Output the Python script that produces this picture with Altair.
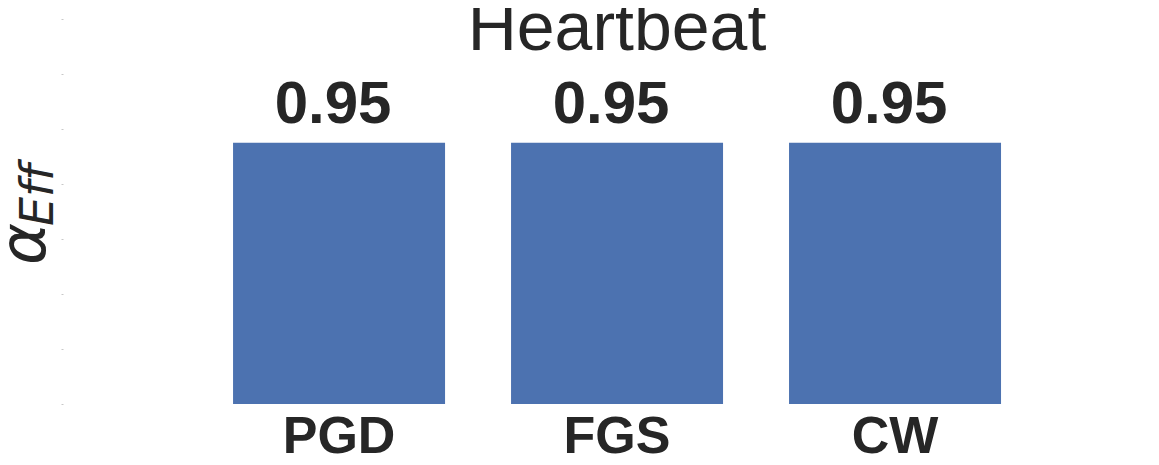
import altair as alt
import pandas as pd

categories = ["PGD", "FGS", "CW"]
values = [0.95, 0.95, 0.95]
chart_title = "Heartbeat"
y_ticks = [0.0, 0.2, 0.4, 0.6, 0.8, 1.0, 1.2, 1.4]

df = pd.DataFrame({"attack": categories, "alpha": values})

FONT = "Liberation Sans"
DARK = "#262626"

x_enc = alt.X(
    "attack:N",
    sort=categories,
    scale=alt.Scale(paddingInner=0.2374, paddingOuter=0.5612, align=0.545),
    axis=alt.Axis(
        title=None, labelAngle=0, domain=False, ticks=False,
        labelFont=FONT, labelFontWeight="bold", labelFontSize=52,
        labelColor=DARK, labelBaseline="alphabetic", labelPadding=48,
    ),
)
y_enc = alt.Y(
    "alpha:Q",
    scale=alt.Scale(domain=[0, 1.4], nice=False),
    axis=alt.Axis(
        title=None, labels=False, domain=False, grid=False,
        ticks=True, tickSize=2, tickColor="#c8c8c8", tickWidth=1,
        values=y_ticks,
    ),
)

bars = alt.Chart(df).mark_bar(color="#4C72B0").encode(x=x_enc, y=y_enc)

labels = alt.Chart(df).mark_text(
    font=FONT, fontWeight="bold", fontSize=60, color=DARK,
    baseline="alphabetic", dy=-20, dx=-6,
).encode(x=x_enc, y=y_enc, text=alt.Text("alpha:Q", format=".2f"))

title = alt.Chart(pd.DataFrame({"t": [chart_title]})).mark_text(
    font=FONT, fontSize=68, color=DARK, baseline="alphabetic", align="center",
).encode(x=alt.value(554), y=alt.value(31), text="t:N")

ylab_a = alt.Chart(pd.DataFrame({"t": ["α"]})).mark_text(
    font="DejaVu Sans", fontStyle="italic", fontSize=64, color=DARK,
    angle=270, align="left", baseline="alphabetic",
).encode(x=alt.value(-18), y=alt.value(246), text="t:N")

ylab_sub = alt.Chart(pd.DataFrame({"t": ["Ef\u200cf"]})).mark_text(
    font="DejaVu Sans", fontStyle="italic", fontSize=46, color=DARK,
    angle=270, align="left", baseline="alphabetic",
).encode(x=alt.value(-10), y=alt.value(207), text="t:N")

chart = (
    alt.layer(bars, labels, title, ylab_a, ylab_sub)
    .properties(
        width=1080, height=385,
        autosize=alt.AutoSizeParams(type="none"),
        padding={"left": 55, "top": 11, "right": 0, "bottom": 53},
        background="white",
    )
    .configure_view(stroke=None)
)

chart.save("out.html", embed_options={"renderer": "svg", "actions": False})
